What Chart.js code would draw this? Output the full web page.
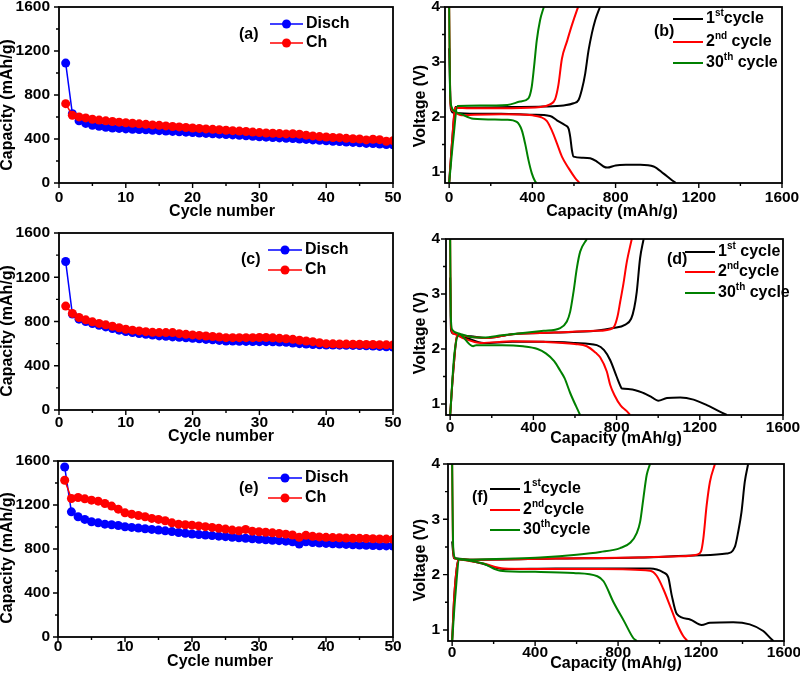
<!DOCTYPE html>
<html><head><meta charset="utf-8">
<script src="https://cdn.jsdelivr.net/npm/chart.js@4.4.0/dist/chart.umd.min.js"></script>
<style>
html,body{margin:0;padding:0;background:#fff;}
#wrap{position:relative;width:800px;height:674px;overflow:hidden;background:#fff;}
canvas{position:absolute;}
</style></head><body><div id="wrap">
<canvas id="ca" width="410" height="225" style="left:0px;top:0px;width:410px;height:225px"></canvas>
<canvas id="cc" width="410" height="225" style="left:0px;top:225px;width:410px;height:225px"></canvas>
<canvas id="ce" width="410" height="224" style="left:0px;top:450px;width:410px;height:224px"></canvas>
<canvas id="cb" width="400" height="225" style="left:400px;top:0px;width:400px;height:225px"></canvas>
<canvas id="cd" width="400" height="225" style="left:400px;top:225px;width:400px;height:225px"></canvas>
<canvas id="cf" width="400" height="224" style="left:400px;top:450px;width:400px;height:224px"></canvas>
</div>
<script>
// ---------------- DATA ----------------
const CYCLES = [1,2,3,4,5,6,7,8,9,10,11,12,13,14,15,16,17,18,19,20,21,22,23,24,25,26,27,28,29,30,31,32,33,34,35,36,37,38,39,40,41,42,43,44,45,46,47,48,49,50];

const A_DISCH = [1090,630,565,542,525,515,506,500,496,492,489,486,483,479,476,473,469,466,462,458,455,451,448,444,440,437,433,429,425,420,417,414,410,407,404,400,396,392,388,383,380,377,373,369,365,360,358,355,350,347];
const A_CH    = [721,615,601,592,580,572,565,559,553,548,543,538,533,528,524,519,514,510,505,500,496,492,488,484,480,476,472,468,463,458,455,452,449,446,448,444,435,428,422,418,414,412,406,402,400,392,398,394,380,385];

const C_DISCH = [1342,867,821,800,782,766,751,737,722,709,700,692,684,677,670,666,661,657,652,648,643,638,634,629,624,623,621,620,619,618,618,617,615,612,606,600,596,592,590,588,587,586,585,584,582,580,578,575,572,570];
const C_CH    = [939,873,836,815,797,783,770,757,744,730,722,715,708,702,700,700,700,690,684,679,674,669,664,659,654,654,654,654,654,655,655,652,648,644,639,630,624,618,608,600,598,597,596,595,594,593,592,590,589,588];

const E_DISCH = [1545,1138,1093,1069,1048,1038,1026,1020,1014,1002,996,990,984,978,972,965,958,950,943,936,932,927,922,917,912,907,902,898,893,888,884,880,876,871,866,845,866,858,854,851,848,845,842,839,836,834,832,830,828,827];
const E_CH    = [1425,1259,1268,1256,1244,1235,1214,1190,1162,1129,1117,1105,1093,1078,1069,1057,1038,1026,1020,1017,1010,1003,996,988,981,972,966,978,962,957,952,947,941,935,927,906,924,915,910,906,904,902,900,898,897,895,893,891,890,888];

// voltage profiles [capacity mAh/g, voltage V]
const B1_DIS = [[0,3.25],[4,2.6],[8,2.15],[20,2.08],[100,2.06],[250,2.06],[400,2.04],[485,2.02],[518,1.94],[558,1.85],[574,1.79],[582,1.64],[590,1.40],[598,1.28],[640,1.26],[678,1.25],[710,1.19],[742,1.10],[760,1.08],[800,1.12],[850,1.13],[919,1.13],[983,1.10],[1031,0.97],[1071,0.85],[1090,0.8]];
const B1_CHG = [[0,0.8],[15,1.6],[30,2.18],[100,2.17],[300,2.18],[450,2.19],[550,2.21],[598,2.25],[622,2.31],[638,2.5],[654,2.79],[670,3.21],[686,3.52],[702,3.76],[725,4.0]];
const B2_DIS = [[0,4.0],[3,3.0],[6,2.25],[15,2.12],[60,2.03],[120,2.04],[250,2.05],[400,2.03],[440,2.0],[469,1.93],[493,1.76],[518,1.52],[542,1.28],[574,1.07],[606,0.89],[627,0.8]];
const B2_CHG = [[0,0.8],[15,1.6],[28,2.17],[100,2.16],[300,2.16],[440,2.18],[485,2.23],[509,2.32],[525,2.58],[542,3.06],[566,3.37],[590,3.67],[614,3.94],[620,4.0]];
const B30_DIS = [[0,4.0],[4,2.5],[10,2.2],[30,2.1],[60,2.05],[116,1.97],[277,1.95],[325,1.91],[349,1.76],[365,1.52],[381,1.22],[397,0.98],[413,0.83],[420,0.8]];
const B30_CHG = [[0,0.8],[20,1.6],[40,2.2],[150,2.21],[280,2.22],[341,2.28],[381,2.34],[397,2.55],[408,2.91],[421,3.39],[437,3.76],[455,4.0]];

const D1_DIS = [[0,3.3],[4,2.35],[15,2.28],[80,2.2],[160,2.11],[300,2.13],[450,2.13],[600,2.11],[705,2.07],[740,1.98],[769,1.8],[800,1.5],[817,1.34],[825,1.28],[865,1.27],[929,1.2],[970,1.12],[1000,1.06],[1042,1.11],[1106,1.12],[1170,1.08],[1234,0.98],[1282,0.89],[1330,0.8]];
const D1_CHG = [[0,0.8],[15,1.6],[35,2.25],[100,2.23],[170,2.2],[300,2.27],[500,2.3],[700,2.33],[785,2.38],[840,2.44],[870,2.55],[885,2.75],[897,3.04],[913,3.65],[930,4.0]];
const D2_DIS = [[0,4.0],[4,2.4],[15,2.28],[60,2.2],[150,2.11],[300,2.14],[450,2.13],[600,2.09],[657,2.05],[700,1.93],[721,1.85],[753,1.59],[769,1.35],[790,1.16],[820,0.97],[849,0.87],[865,0.8]];
const D2_CHG = [[0,0.8],[15,1.6],[35,2.25],[100,2.22],[170,2.2],[300,2.27],[500,2.3],[700,2.33],[770,2.36],[790,2.42],[805,2.6],[817,2.85],[833,3.19],[849,3.58],[873,4.0]];
const D30_DIS = [[0,4.0],[3,2.6],[10,2.35],[45,2.28],[110,2.05],[125,2.07],[250,2.07],[350,2.05],[420,2.0],[460,1.92],[500,1.78],[530,1.6],[550,1.47],[577,1.2],[605,0.96],[625,0.8]];
const D30_CHG = [[0,0.8],[20,1.9],[45,2.27],[100,2.22],[160,2.21],[250,2.25],[350,2.29],[450,2.33],[529,2.38],[561,2.5],[577,2.68],[593,3.04],[609,3.47],[625,3.77],[657,4.0]];

const F1_DIS = [[0,2.6],[8,2.3],[24,2.29],[100,2.24],[152,2.19],[248,2.1],[500,2.11],[800,2.11],[954,2.11],[1018,2.04],[1042,1.95],[1059,1.62],[1083,1.29],[1147,1.19],[1203,1.09],[1243,1.13],[1355,1.14],[1435,1.1],[1500,0.98],[1540,0.83],[1550,0.8]];
const F1_CHG = [[0,0.8],[10,1.6],[30,2.28],[100,2.27],[500,2.29],[900,2.31],[1195,2.35],[1323,2.38],[1363,2.5],[1379,2.77],[1395,3.13],[1411,3.68],[1427,4.0]];
const F2_DIS = [[0,4.0],[4,2.5],[10,2.3],[30,2.28],[150,2.2],[250,2.11],[500,2.1],[714,2.1],[954,2.07],[986,1.98],[1018,1.74],[1050,1.44],[1082,1.13],[1114,0.89],[1135,0.8]];
const F2_CHG = [[0,0.8],[10,1.6],[30,2.28],[100,2.27],[500,2.29],[900,2.31],[1100,2.33],[1180,2.36],[1200,2.42],[1211,2.65],[1227,3.25],[1243,3.68],[1267,4.0]];
const F30_DIS = [[0,4.0],[5,2.5],[15,2.3],[40,2.28],[150,2.2],[232,2.07],[400,2.05],[585,2.03],[700,1.97],[730,1.88],[778,1.5],[830,1.15],[874,0.85],[890,0.8]];
const F30_CHG = [[0,0.8],[15,1.6],[35,2.28],[100,2.27],[300,2.29],[425,2.31],[600,2.36],[714,2.41],[810,2.48],[860,2.58],[890,2.75],[906,2.95],[922,3.38],[938,3.8],[954,4.0]];

// ticks
const CYC_X_TICKS = [0,10,20,30,40,50];
const CYC_X_MINOR = [5,15,25,35,45];
const CAP_Y_TICKS = [0,400,800,1200,1600];
const CAP_Y_MINOR = [200,600,1000,1400];
const VP_X_TICKS = [0,400,800,1200,1600];
const VP_X_MINOR = [200,600,1000,1400];
const VP_Y_TICKS = [1,2,3,4];
const VP_Y_MINOR = [1.5,2.5,3.5];

// legend texts (with superscripts)
const LEG_B = [[['1',0],['st',1],['cycle',0]], [['2',0],['nd',1],[' cycle',0]], [['30',0],['th',1],[' cycle',0]]];
const LEG_D = [[['1',0],['st',1],[' cycle',0]], [['2',0],['nd',1],['cycle',0]], [['30',0],['th',1],[' cycle',0]]];
const LEG_F = [[['1',0],['st',1],['cycle',0]], [['2',0],['nd',1],['cycle',0]], [['30',0],['th',1],['cycle',0]]];

// ---------------- DRAWING ----------------
const FONT = '"Liberation Sans", Arial, Helvetica, sans-serif';
const BLUE = '#0000ff', RED = '#ff0000', BLACK = '#000000', GREEN = '#008000';

const panelPlugin = {
  id: 'panel',
  afterDraw(chart, args, o) {
    const ctx = chart.ctx, a = chart.chartArea, xs = chart.scales.x, ys = chart.scales.y;
    ctx.save();
    ctx.strokeStyle = '#000';
    ctx.lineWidth = 1.4;
    ctx.beginPath();
    o.xMajor.forEach(v => { const p = xs.getPixelForValue(v); ctx.moveTo(p, a.bottom); ctx.lineTo(p, a.bottom + 5); });
    o.xMinor.forEach(v => { const p = xs.getPixelForValue(v); ctx.moveTo(p, a.bottom); ctx.lineTo(p, a.bottom + 3); });
    o.yMajor.forEach(v => { const p = ys.getPixelForValue(v); ctx.moveTo(a.left, p); ctx.lineTo(a.left - 5, p); });
    o.yMinor.forEach(v => { const p = ys.getPixelForValue(v); ctx.moveTo(a.left, p); ctx.lineTo(a.left - 3, p); });
    ctx.stroke();
    ctx.lineWidth = 1.8;
    ctx.strokeRect(a.left, a.top, a.right - a.left, a.bottom - a.top);

    ctx.fillStyle = '#000';
    ctx.font = 'bold 16px ' + FONT;
    ctx.textAlign = 'center';
    ctx.textBaseline = 'middle';
    ctx.fillText(o.xTitle.text, o.xTitle.x, o.xTitle.y);
    ctx.save();
    ctx.translate(o.yTitle.x, o.yTitle.y);
    ctx.rotate(-Math.PI / 2);
    ctx.fillText(o.yTitle.text, 0, 0);
    ctx.restore();

    ctx.textAlign = 'left';
    ctx.fillText(o.tag.text, o.tag.x, o.tag.y);

    const L = o.legend;
    L.rows.forEach(r => {
      const ds = chart.data.datasets[r.ds];
      ctx.strokeStyle = ds.borderColor;
      ctx.lineWidth = L.lw;
      ctx.beginPath();
      ctx.moveTo(L.x1, r.y); ctx.lineTo(L.x2, r.y);
      ctx.stroke();
      if (ds.pointRadius > 0) {
        ctx.fillStyle = ds.borderColor;
        ctx.beginPath();
        ctx.arc((L.x1 + L.x2) / 2, r.y, ds.pointRadius, 0, Math.PI * 2);
        ctx.fill();
      }
      ctx.fillStyle = '#000';
      let x = L.tx;
      const parts = r.parts || [[ds.label, 0]];
      parts.forEach(([t, sup]) => {
        ctx.font = (sup ? 'bold 10px ' : 'bold 16px ') + FONT;
        ctx.fillText(t, x, sup ? r.y - 6 : r.y);
        x += ctx.measureText(t).width;
      });
    });
    ctx.restore();
  }
};

function cycDs(label, vals, color, order) {
  return { label, data: CYCLES.map((c, i) => ({ x: c, y: vals[i] })), showLine: true,
    borderColor: color, backgroundColor: color, pointBackgroundColor: color, pointBorderWidth: 0,
    pointRadius: 4.5, borderWidth: 1.5, order };
}
function vpDs(label, pts, color, order) {
  return { label, data: pts.map(p => ({ x: p[0], y: p[1] })), showLine: true,
    borderColor: color, backgroundColor: color, pointRadius: 0, borderWidth: 2,
    cubicInterpolationMode: 'monotone', order };
}

function build(id, cfg) {
  const g = cfg.geom;
  const tickFont = { family: FONT, size: 15.5, weight: 'bold' };
  const plain = v => String(v);
  return new Chart(document.getElementById(id), {
    type: 'scatter',
    data: { datasets: cfg.datasets },
    options: {
      responsive: false, animation: false, devicePixelRatio: 1,
      layout: { padding: { left: 0, right: g.R, top: g.T, bottom: 0 } },
      plugins: { legend: { display: false }, tooltip: { enabled: false }, panel: cfg.panel },
      scales: {
        x: { type: 'linear', min: cfg.xMin, max: cfg.xMax,
          grid: { display: false, drawTicks: false }, border: { display: false },
          afterBuildTicks: s => { s.ticks = cfg.xTicks.map(v => ({ value: v })); },
          afterFit: s => { s.height = g.H; s.paddingLeft = 0; s.paddingRight = 0; s.paddingTop = 0; s.paddingBottom = 0; },
          ticks: { autoSkip: false, maxRotation: 0, minRotation: 0, padding: g.xPad, color: '#000', font: tickFont, callback: plain } },
        y: { type: 'linear', min: cfg.yMin, max: cfg.yMax,
          grid: { display: false, drawTicks: false }, border: { display: false },
          afterBuildTicks: s => { s.ticks = cfg.yTicks.map(v => ({ value: v })); },
          afterFit: s => { s.width = g.W; s.paddingLeft = 0; s.paddingRight = 0; s.paddingTop = 0; s.paddingBottom = 0; },
          ticks: { autoSkip: false, padding: g.yPad, color: '#000', font: tickFont, callback: plain } }
      }
    },
    plugins: [panelPlugin]
  });
}

function cycPanel(id, dis, ch, geom, titles, tag, leg) {
  build(id, {
    geom, xMin: 0, xMax: 50, yMin: 0, yMax: 1600, xTicks: CYC_X_TICKS, yTicks: CAP_Y_TICKS,
    datasets: [cycDs('Disch', dis, BLUE, 2), cycDs('Ch', ch, RED, 1)],
    panel: { xMajor: CYC_X_TICKS, xMinor: CYC_X_MINOR, yMajor: CAP_Y_TICKS, yMinor: CAP_Y_MINOR,
      xTitle: { text: 'Cycle number', x: titles[0], y: titles[1] },
      yTitle: { text: 'Capacity (mAh/g)', x: titles[2], y: titles[3] },
      tag, legend: { x1: leg.x1, x2: leg.x2, tx: leg.tx, lw: 1.5, rows: [{ ds: 0, y: leg.y[0] }, { ds: 1, y: leg.y[1] }] } }
  });
}

function vpPanel(id, sets, geom, titles, tag, leg, texts) {
  build(id, {
    geom, xMin: -20, xMax: 1600, yMin: 0.8, yMax: 4, xTicks: VP_X_TICKS, yTicks: VP_Y_TICKS,
    datasets: [vpDs('1st cycle', sets[0], BLACK, 3), vpDs('1st cycle', sets[1], BLACK, 3),
               vpDs('2nd cycle', sets[2], RED, 2), vpDs('2nd cycle', sets[3], RED, 2),
               vpDs('30th cycle', sets[4], GREEN, 1), vpDs('30th cycle', sets[5], GREEN, 1)],
    panel: { xMajor: VP_X_TICKS, xMinor: VP_X_MINOR, yMajor: VP_Y_TICKS, yMinor: VP_Y_MINOR,
      xTitle: { text: 'Capacity (mAh/g)', x: titles[0], y: titles[1] },
      yTitle: { text: 'Voltage (V)', x: titles[2], y: titles[3] },
      tag, legend: { x1: leg.x1, x2: leg.x2, tx: leg.tx, lw: 2,
        rows: [{ ds: 0, y: leg.y[0], parts: texts[0] }, { ds: 2, y: leg.y[1], parts: texts[1] }, { ds: 4, y: leg.y[2], parts: texts[2] }] } }
  });
}

cycPanel('ca', A_DISCH, A_CH, { W: 59, H: 42, R: 17, T: 7, xPad: 5.5, yPad: 9 },
  [222, 212, 8, 105], { text: '(a)', x: 239, y: 35 }, { x1: 270, x2: 303, tx: 306, y: [24, 43] });
cycPanel('cc', C_DISCH, C_CH, { W: 59, H: 40, R: 17, T: 8, xPad: 3, yPad: 9 },
  [221, 212, 8, 106], { text: '(c)', x: 241, y: 35 }, { x1: 268, x2: 302, tx: 305, y: [25, 45] });
cycPanel('ce', E_DISCH, E_CH, { W: 58, H: 37, R: 17, T: 11, xPad: 0, yPad: 8 },
  [220, 212, 8, 108], { text: '(e)', x: 239, y: 39 }, { x1: 268, x2: 302, tx: 305, y: [28, 48] });

vpPanel('cb', [B1_DIS, B1_CHG, B2_DIS, B2_CHG, B30_DIS, B30_CHG], { W: 45, H: 42, R: 18, T: 7, xPad: 5.5, yPad: 5 },
  [212, 212, 21, 106], { text: '(b)', x: 254, y: 32 }, { x1: 273, x2: 303, tx: 306, y: [19, 42, 63] }, LEG_B);
vpPanel('cd', [D1_DIS, D1_CHG, D2_DIS, D2_CHG, D30_DIS, D30_CHG], { W: 46, H: 35, R: 17, T: 14, xPad: 3, yPad: 6 },
  [216, 214, 21, 108], { text: '(d)', x: 267, y: 35 }, { x1: 285, x2: 315, tx: 318, y: [27, 47, 68] }, LEG_D);
vpPanel('cf', [F1_DIS, F1_CHG, F2_DIS, F2_CHG, F30_DIS, F30_CHG], { W: 48, H: 33, R: 16, T: 14, xPad: 2, yPad: 8 },
  [216, 214, 21, 110], { text: '(f)', x: 72, y: 48 }, { x1: 90, x2: 120, tx: 123, y: [39, 60, 80] }, LEG_F);
</script>
</body></html>
